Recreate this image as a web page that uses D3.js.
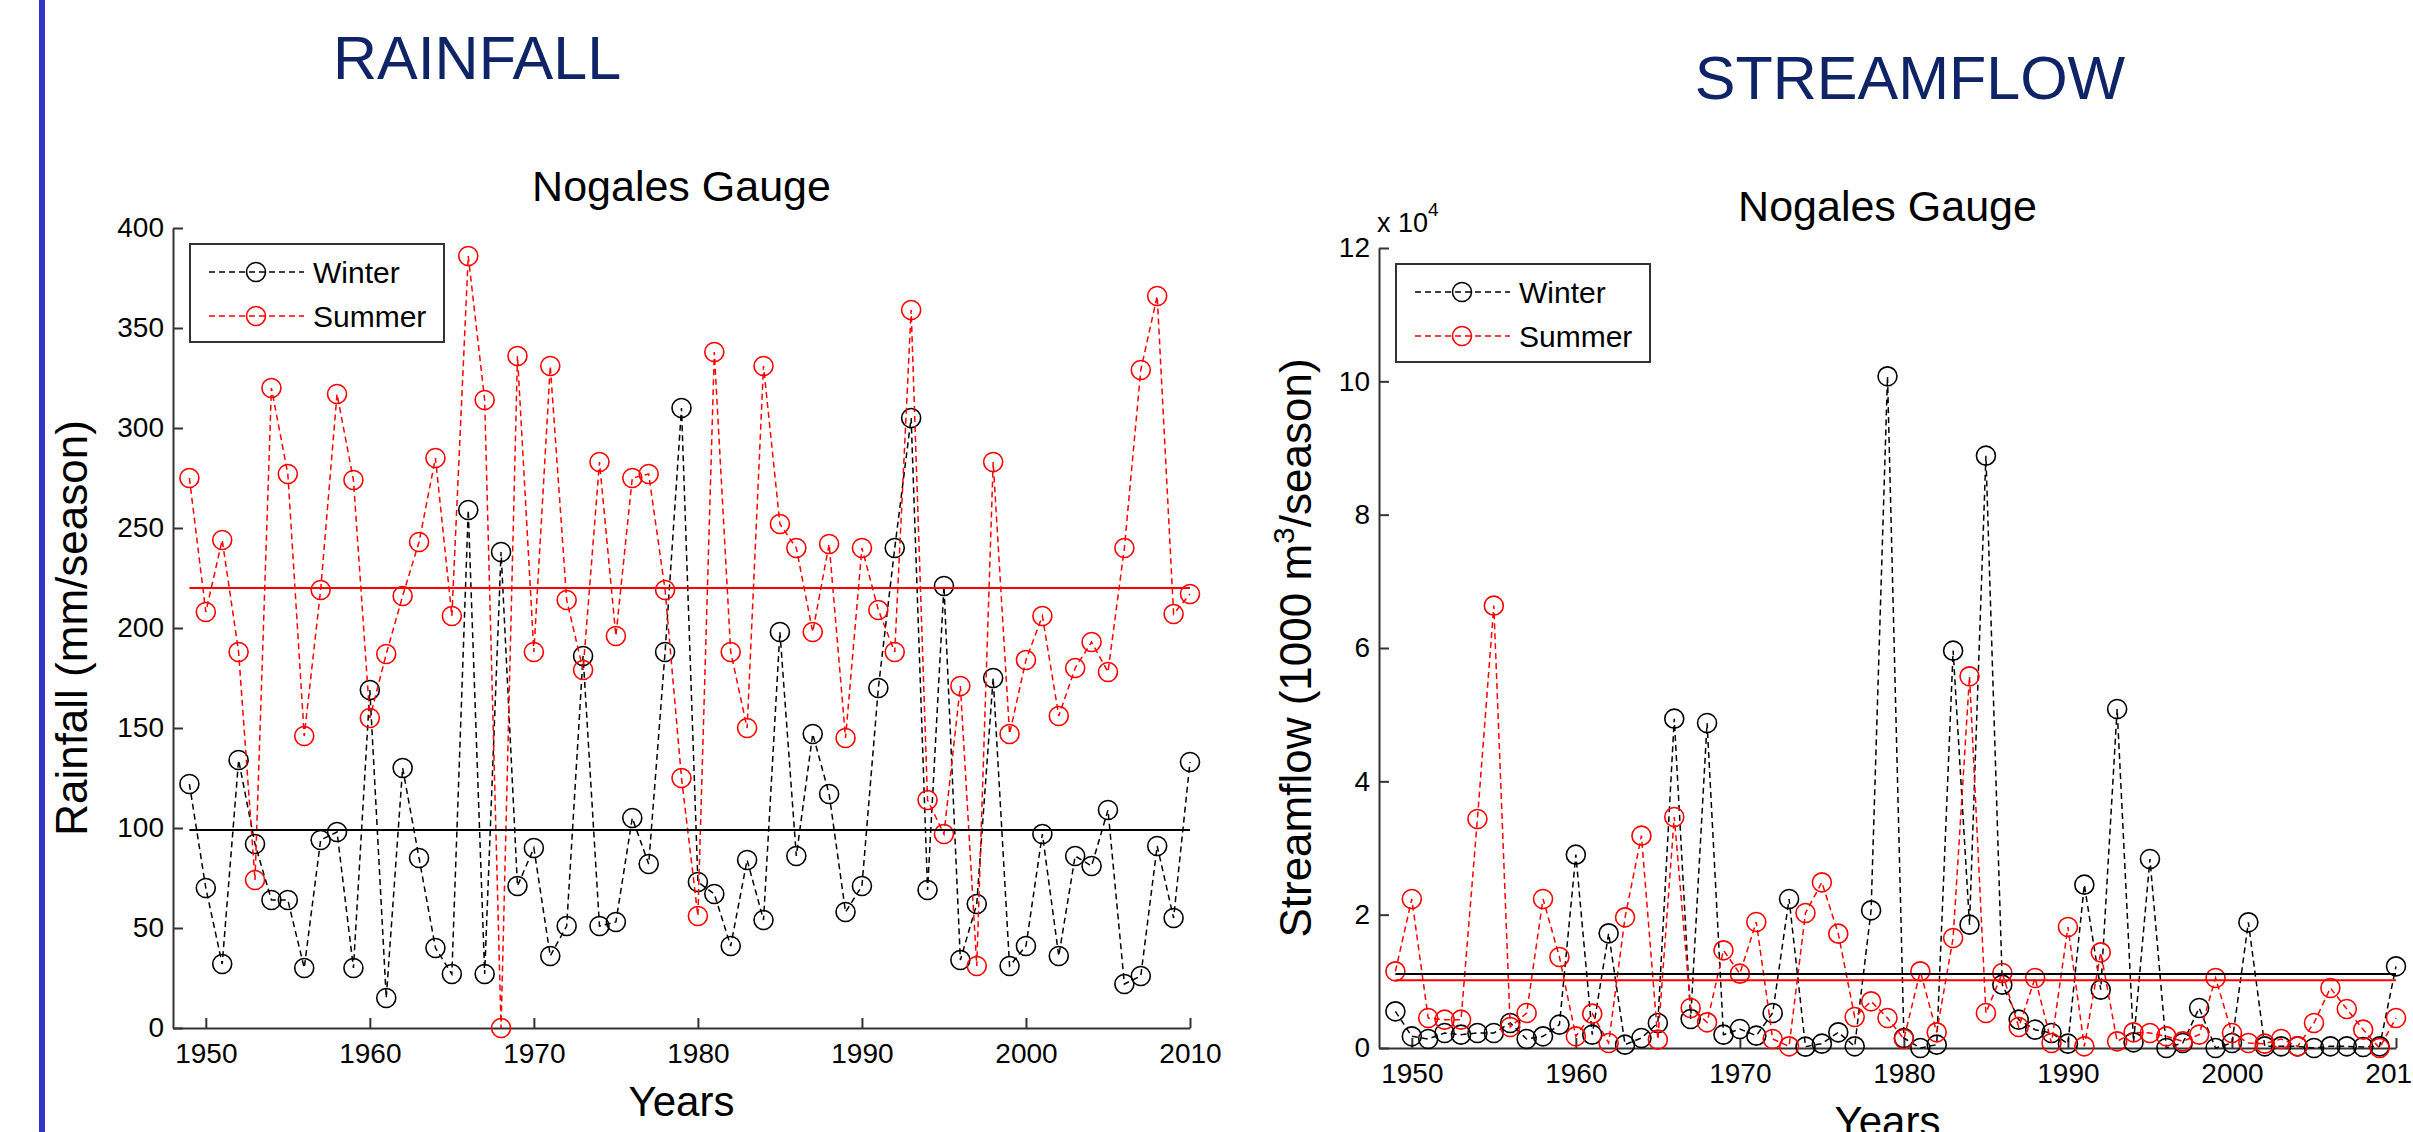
<!DOCTYPE html>
<html>
<head>
<meta charset="utf-8">
<script src="https://cdnjs.cloudflare.com/ajax/libs/d3/7.8.5/d3.min.js"></script>
<style>
body { margin: 0; background: #fff; }
svg { display: block; font-family: "Liberation Sans", Arial, sans-serif; }
</style>
</head>
<body>
<div class="slide"></div>
<script>
// Nogales gauge: seasonal rainfall and streamflow, two MATLAB-style panels on one slide

var w = 2413, h = 1132;

var years = [1949, 1950, 1951, 1952, 1953, 1954, 1955, 1956, 1957, 1958,
	1959, 1960, 1961, 1962, 1963, 1964, 1965, 1966, 1967, 1968,
	1969, 1970, 1971, 1972, 1973, 1974, 1975, 1976, 1977, 1978,
	1979, 1980, 1981, 1982, 1983, 1984, 1985, 1986, 1987, 1988,
	1989, 1990, 1991, 1992, 1993, 1994, 1995, 1996, 1997, 1998,
	1999, 2000, 2001, 2002, 2003, 2004, 2005, 2006, 2007, 2008,
	2009, 2010];

// rainfall, mm/season
var rainWinter = [122, 70, 32, 134, 92, 64, 64, 30, 94, 98,
	30, 169, 15, 130, 85, 40, 27, 259, 27, 238,
	71, 90, 36, 51, 186, 51, 53, 105, 82, 188,
	310, 73, 67, 41, 84, 54, 198, 86, 147, 117,
	58, 71, 170, 240, 305, 69, 221, 34, 62, 175,
	31, 41, 97, 36, 86, 81, 109, 22, 26, 91,
	55, 133];
var rainSummer = [275, 208, 244, 188, 74, 320, 277, 146, 219, 317,
	274, 155, 187, 216, 243, 285, 206, 386, 314, 0,
	336, 188, 331, 214, 179, 283, 196, 275, 277, 219,
	125, 56, 338, 188, 150, 331, 252, 240, 198, 242,
	145, 240, 209, 188, 359, 114, 97, 171, 31, 283,
	147, 184, 206, 156, 180, 193, 178, 240, 329, 366,
	207, 217];
var rainMeans = [99, 220]; // winter, summer

// streamflow, x 10^4 (1000 m3/season)
var flowWinter = [0.55, 0.175, 0.135, 0.225, 0.2, 0.225, 0.225, 0.375, 0.135, 0.175,
	0.35, 2.9, 0.2, 1.72, 0.05, 0.15, 0.375, 4.94, 0.435, 4.875,
	0.2, 0.285, 0.185, 0.525, 2.235, 0.02, 0.065, 0.235, 0.025, 2.065,
	10.075, 0.15, 0.0, 0.05, 5.96, 1.85, 8.885, 0.95, 0.425, 0.275,
	0.225, 0.065, 2.45, 0.875, 5.085, 0.085, 2.835, 0.0, 0.075, 0.6,
	0.0, 0.075, 1.885, 0.025, 0.025, 0.025, 0.0, 0.025, 0.025, 0.015,
	0.025, 1.225];
var flowSummer = [1.15, 2.235, 0.45, 0.425, 0.425, 3.435, 6.635, 0.315, 0.525, 2.235,
	1.365, 0.175, 0.515, 0.075, 1.96, 3.185, 0.125, 3.465, 0.6, 0.385,
	1.465, 1.115, 1.89, 0.135, 0.025, 2.025, 2.485, 1.715, 0.465, 0.7,
	0.45, 0.135, 1.15, 0.235, 1.65, 5.575, 0.525, 1.125, 0.315, 1.05,
	0.075, 1.815, 0.025, 1.435, 0.1, 0.235, 0.225, 0.175, 0.1, 0.2,
	1.05, 0.225, 0.075, 0.065, 0.135, 0.025, 0.375, 0.9, 0.585, 0.275,
	0.0, 0.45];
var flowMeans = [1.11, 1.015];

var yearTicks = [1950, 1960, 1970, 1980, 1990, 2000, 2010];
var rainTicks = [0, 50, 100, 150, 200, 250, 300, 350, 400];
var flowTicks = [0, 2, 4, 6, 8, 10, 12];
var seasons = ['Winter', 'Summer'];
var seasonColors = ['#000', '#ff0000'];

var svg = d3.select('.slide').append('svg')
	.attr('width', w)
	.attr('height', h)

// blue bar down the left edge of the slide
svg.append('rect')
	.attr('x', 39).attr('y', 0)
	.attr('width', 6).attr('height', h)
	.attr('fill', '#3333cc')

var panels = [
	{ heading: 'RAINFALL', headX: 477, headY: 79,
		left: 173, right: 1190, top: 228, bottom: 1028,
		yMax: 400, yTicks: rainTicks, series: [rainWinter, rainSummer], means: rainMeans,
		ylabel: ['Rainfall (mm/season)'], ylabelX: 87 },
	{ heading: 'STREAMFLOW', headX: 1910, headY: 99,
		left: 1379, right: 2396, top: 248, bottom: 1048,
		yMax: 12, yTicks: flowTicks, series: [flowWinter, flowSummer], means: flowMeans,
		ylabel: ['Streamflow (1000 m', '3', '/season)'], ylabelX: 1311, exponent: true }
];

panels.forEach(drawPanel);

function drawPanel(p) {
	var x = d3.scaleLinear().domain([1948, 2010]).range([p.left, p.right]);
	var y = d3.scaleLinear().domain([0, p.yMax]).range([p.bottom, p.top]);
	var g = svg.append('g');

	// slide heading
	g.append('text')
		.attr('x', p.headX).attr('y', p.headY)
		.attr('text-anchor', 'middle')
		.attr('font-size', 61)
		.attr('fill', '#0f2466')
		.text(p.heading)

	g.append('text')
		.attr('x', (p.left + p.right) / 2).attr('y', p.top - 27)
		.attr('text-anchor', 'middle')
		.attr('font-size', 43)
		.text('Nogales Gauge')

	// axes, ticks pointing inwards like matlab
	var xAxis = g.append('g')
		.attr('transform', 'translate(0,' + p.bottom + ')')
		.call(d3.axisBottom(x).tickValues(yearTicks).tickFormat(d3.format('d'))
			.tickSizeInner(-10).tickSizeOuter(0).tickPadding(15))
	var yAxis = g.append('g')
		.attr('transform', 'translate(' + p.left + ',0)')
		.call(d3.axisLeft(y).tickValues(p.yTicks)
			.tickSizeInner(-10).tickSizeOuter(0).tickPadding(9))
	;[xAxis, yAxis].forEach(function(a) {
		a.attr('font-family', null).attr('font-size', 28)
		a.select('.domain').attr('stroke', '#333').attr('stroke-width', 2)
		a.selectAll('.tick line').attr('stroke', '#333').attr('stroke-width', 2)
		a.selectAll('.tick text').attr('fill', '#000')
	})

	if (p.exponent) {
		var ex = g.append('text')
			.attr('x', p.left - 2).attr('y', p.top - 16)
			.attr('font-size', 27)
		ex.append('tspan').text('x 10')
		ex.append('tspan').attr('dy', -16).attr('font-size', 19).text('4')
	}

	g.append('text')
		.attr('x', (p.left + p.right) / 2).attr('y', p.bottom + 88)
		.attr('text-anchor', 'middle')
		.attr('font-size', 42)
		.text('Years')

	var yl = g.append('text')
		.attr('transform', 'translate(' + p.ylabelX + ',' + ((p.top + p.bottom) / 2) + ') rotate(-90)')
		.attr('text-anchor', 'middle')
		.attr('font-size', 44)
	yl.append('tspan').text(p.ylabel[0])
	if (p.ylabel.length > 1) {
		yl.append('tspan').attr('dy', -17).attr('font-size', 30).text(p.ylabel[1])
		yl.append('tspan').attr('dy', 17).text(p.ylabel[2])
	}

	var line = d3.line()
		.x(function(d, i) { return x(years[i]); })
		.y(function(d) { return y(d); })

	p.series.forEach(function(vals, s) {
		var sg = g.append('g').attr('stroke', seasonColors[s]).attr('fill', 'none')
		sg.append('path')
			.datum(vals)
			.attr('d', line)
			.attr('stroke-width', 1.5)
			.attr('stroke-dasharray', '6,4')
		sg.selectAll('circle')
				.data(vals)
			.enter().append('circle')
				.attr('cx', function(d, i) { return x(years[i]); })
				.attr('cy', function(d) { return y(d); })
				.attr('r', 9.5)
				.attr('stroke-width', 1.6)
	})

	// seasonal means
	g.selectAll('.mean')
			.data(p.means)
		.enter().append('line')
			.attr('x1', x(years[0]))
			.attr('x2', x(years[years.length - 1]))
			.attr('y1', function(d) { return y(d); })
			.attr('y2', function(d) { return y(d); })
			.attr('stroke', function(d, i) { return seasonColors[i]; })
			.attr('stroke-width', 2)

	// legend box
	var lg = g.append('g').attr('transform', 'translate(' + (p.left + 17) + ',' + (p.top + 16) + ')')
	lg.append('rect')
		.attr('width', 254).attr('height', 98)
		.attr('fill', '#fff')
		.attr('stroke', '#333')
		.attr('stroke-width', 2)
	var row = lg.selectAll('.row')
			.data(seasons)
		.enter().append('g')
			.attr('transform', function(d, i) { return 'translate(0,' + (28 + i * 44) + ')'; })
	row.append('line')
		.attr('x1', 19).attr('x2', 114)
		.attr('stroke', function(d, i) { return seasonColors[i]; })
		.attr('stroke-width', 1.5)
		.attr('stroke-dasharray', '6,4')
	row.append('circle')
		.attr('cx', 66).attr('r', 9.5)
		.attr('fill', 'none')
		.attr('stroke', function(d, i) { return seasonColors[i]; })
		.attr('stroke-width', 1.6)
	row.append('text')
		.attr('x', 123).attr('dy', '0.36em')
		.attr('font-size', 30)
		.text(function(d) { return d; })
}
</script>
</body>
</html>
